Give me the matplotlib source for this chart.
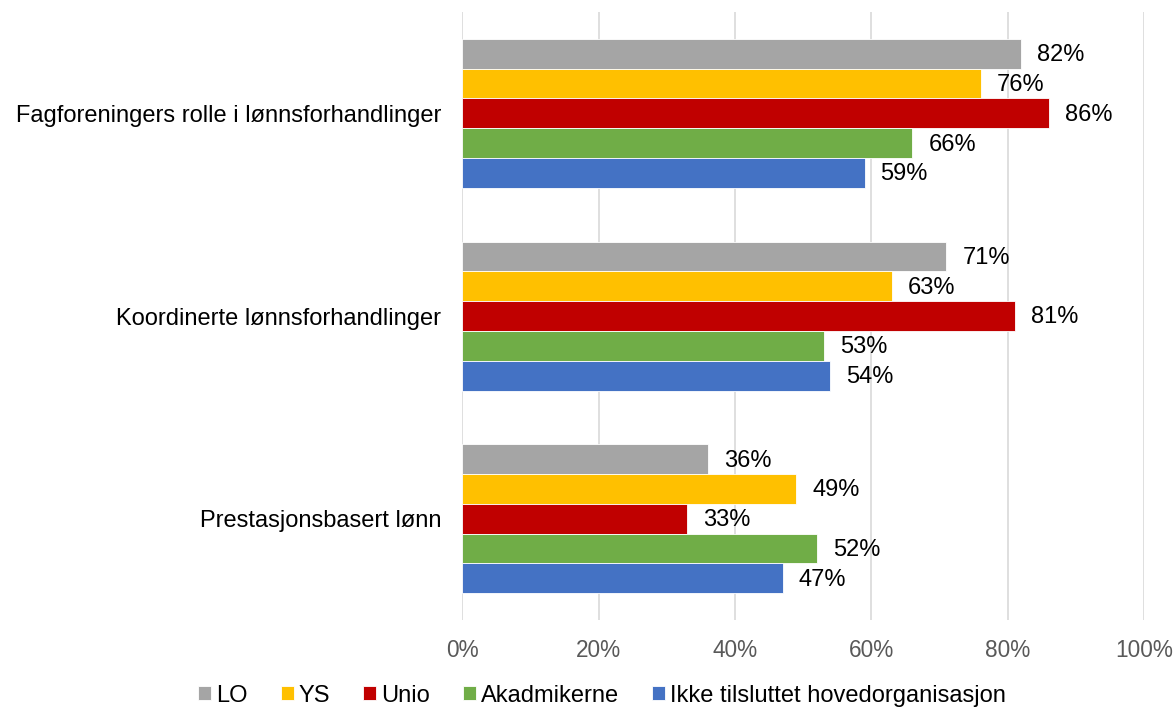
import matplotlib.pyplot as plt
import numpy as np

plt.rcParams['font.family'] = ['Liberation Sans', 'DejaVu Sans']
plt.rcParams['font.size'] = 17

categories = ["Fagforeningers rolle i lønnsforhandlinger",
              "Koordinerte lønnsforhandlinger",
              "Prestasjonsbasert lønn"]
series = ["LO", "YS", "Unio", "Akadmikerne", "Ikke tilsluttet hovedorganisasjon"]
colors = ["#A5A5A5", "#FFC000", "#C00000", "#70AD47", "#4472C4"]

lo = [82, 71, 36]
ys = [76, 63, 49]
unio = [86, 81, 33]
akad = [66, 53, 52]
ikke = [59, 54, 47]
values = [lo, ys, unio, akad, ikke]

fig = plt.figure(figsize=(11.76, 7.09), dpi=100)
ax = fig.add_axes([0.393, 0.1255, 0.580, 0.8575])

ypos = np.array([2, 1, 0])
h = 0.147
handles = []
for i, (name, vals, c) in enumerate(zip(series, values, colors)):
    off = (2 - i) * h
    b = ax.barh(ypos + off, vals, height=h, color=c, edgecolor='white',
                linewidth=0.6, label=name, zorder=3)
    handles.append(b)
    for y, v in zip(ypos, vals):
        ax.annotate(f"{v}%", (v, y + off), xytext=(11.5, -1),
                    textcoords='offset points', va='center', ha='left',
                    fontsize=17, color='#000000', zorder=4)

ax.set_xlim(0, 100)
ax.set_ylim(-0.5, 2.5)
ax.set_xticks(range(0, 101, 20))
ax.set_xticklabels([f"{t}%" for t in range(0, 101, 20)], color='#595959', fontsize=16.3)
ax.set_yticks(ypos)
ax.set_yticklabels(categories, fontsize=17)
ax.tick_params(axis='both', length=0)
ax.tick_params(axis='x', pad=14)
ax.tick_params(axis='y', pad=15)
ax.grid(axis='x', color='#D9D9D9', linewidth=1.2, zorder=0)
for s in ax.spines.values():
    s.set_visible(False)

fig.legend(handles=handles, loc='center', ncol=5, frameon=False,
           bbox_to_anchor=(0.512, 0.019), fontsize=17, handlelength=0.55,
           handleheight=0.55, handletextpad=0.21, columnspacing=1.4,
           borderpad=0)

fig.savefig("out.png", dpi=100)
